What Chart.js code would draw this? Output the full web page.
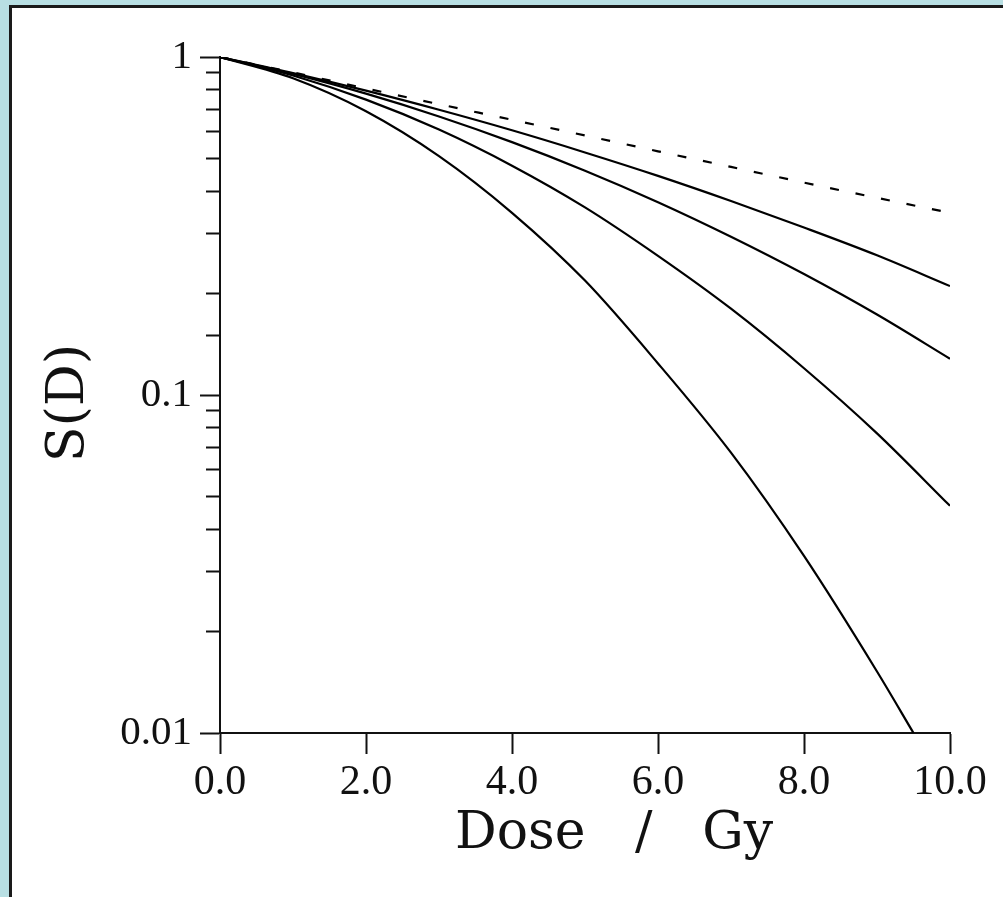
<!DOCTYPE html>
<html>
<head>
<meta charset="utf-8">
<script src="https://cdn.jsdelivr.net/npm/chart.js@4/dist/chart.umd.min.js"></script>
<style>
  html, body { margin: 0; padding: 0; background: #b8dfe3; overflow: hidden; }
  #frame {
    position: absolute; left: 9px; top: 5px; width: 1100px; height: 1000px;
    background: #fff; border-left: 3px solid #1a1a1a; border-top: 3px solid #1a1a1a;
  }
  #chart { position: absolute; left: 0; top: 0; }
</style>
</head>
<body>
<div id="frame"></div>
<canvas id="chart" width="1003" height="897"></canvas>
<script>
// dose in Gy
const doses = [0, 1, 2, 3, 4, 5, 6, 7, 8, 9, 10];
const dosesSteep = [0, 1, 2, 3, 4, 5, 6, 7, 8, 9, 9.5];

// surviving fraction S(D)
const survLinear = [1, 0.90, 0.807, 0.725, 0.652, 0.586, 0.526, 0.473, 0.425, 0.383, 0.346];
const survA = [1, 0.896, 0.795, 0.698, 0.607, 0.522, 0.445, 0.375, 0.313, 0.259, 0.21];
const survB = [1, 0.891, 0.779, 0.667, 0.56, 0.461, 0.372, 0.294, 0.228, 0.173, 0.128];
const survC = [1, 0.882, 0.748, 0.61, 0.477, 0.359, 0.258, 0.18, 0.12, 0.077, 0.047];
const survD = [1, 0.865, 0.691, 0.509, 0.346, 0.218, 0.124, 0.0675, 0.0334, 0.0152, 0.0100];

const yTickValues = [0.01, 0.1, 1];
const yTickLabels = ['0.01', '0.1', '1'];
const xTickStep = 2;

const toPoints = (xs, ys) => xs.map((x, i) => ({ x: x, y: ys[i] }));
const isDecade = v => Math.abs(Math.log10(v) - Math.round(Math.log10(v))) < 1e-6;

function line(xs, ys, dash) {
    return {
        data: toPoints(xs, ys),
        borderColor: '#000',
        borderWidth: 2.2,
        borderDash: dash || [],
        pointRadius: 0,
        fill: false,
        cubicInterpolationMode: 'monotone'
    };
}

// axis titles drawn at fixed spots
const axisTitles = {
    id: 'axisTitles',
    afterDraw(chart) {
        const ctx = chart.ctx;
        ctx.save();
        ctx.fillStyle = '#111';
        ctx.font = '52px "DejaVu Serif"';
        ctx.textBaseline = 'alphabetic';
        ctx.textAlign = 'left';
        ctx.fillText('Dose   /   Gy', 455, 848);
        ctx.translate(83, 403);
        ctx.rotate(-Math.PI / 2);
        ctx.textAlign = 'center';
        ctx.fillText('S(D)', 0, 0);
        ctx.restore();
    }
};

new Chart(document.getElementById('chart'), {
    type: 'line',
    data: {
        datasets: [
            line(doses, survLinear, [9, 17]),
            line(doses, survA),
            line(doses, survB),
            line(doses, survC),
            line(dosesSteep, survD)
        ]
    },
    options: {
        responsive: false,
        animation: false,
        layout: { padding: { left: 0, top: 57, right: 53, bottom: 0 } },
        plugins: { legend: { display: false }, tooltip: { enabled: false } },
        scales: {
            x: {
                type: 'linear',
                min: 0,
                max: 10,
                afterFit: s => { s.height = 164; },
                border: { color: '#111', width: 2 },
                grid: { drawOnChartArea: false, tickLength: 21, tickColor: '#111', tickWidth: 2 },
                ticks: {
                    stepSize: xTickStep,
                    maxRotation: 0,
                    padding: 4,
                    color: '#111',
                    font: { family: '"Liberation Serif"', size: 42 },
                    callback: v => v.toFixed(1)
                }
            },
            y: {
                type: 'logarithmic',
                min: 0.01,
                max: 1,
                afterFit: s => { s.width = 220; },
                border: { color: '#111', width: 2 },
                grid: {
                    drawOnChartArea: false,
                    tickLength: 20,
                    tickColor: '#111',
                    tickWidth: 2,
                    tickBorderDash: c => (c.tick && isDecade(c.tick.value)) ? [] : [0, 6, 14]
                },
                ticks: {
                    autoSkip: false,
                    padding: 8,
                    color: '#111',
                    font: { family: '"Liberation Serif"', size: 41 },
                    callback: v => {
                        const i = yTickValues.findIndex(t => Math.abs(t - v) / t < 1e-6);
                        return i >= 0 ? yTickLabels[i] : '';
                    }
                }
            }
        }
    },
    plugins: [axisTitles]
});
</script>
</body>
</html>
